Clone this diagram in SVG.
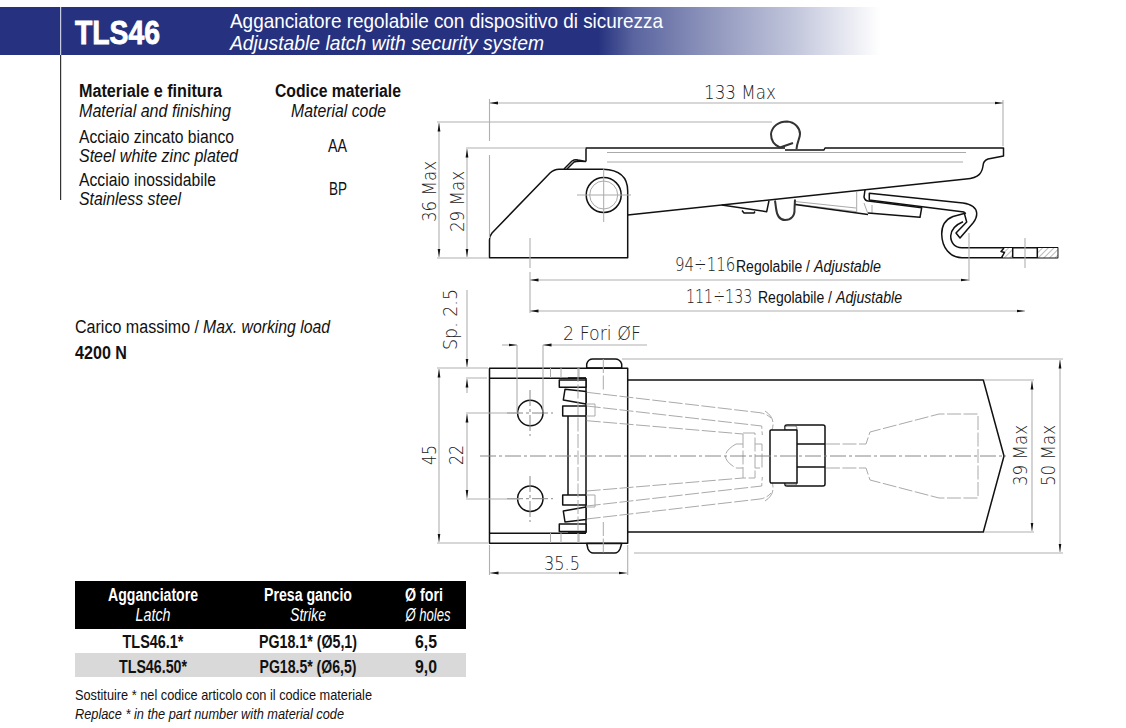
<svg xmlns="http://www.w3.org/2000/svg" width="1126" height="728" viewBox="0 0 1126 728">
<style>
text{font-family:"Liberation Sans",Arial,sans-serif;fill:#111}
.i{font-style:italic}.b{font-weight:bold}.m{text-anchor:middle}
.t{font-size:18px}
.dim{font-family:"DejaVu Sans ExtraLight","DejaVu Sans",sans-serif;font-size:19px;fill:#222;font-weight:200}
.k{fill:none;stroke:#111;stroke-width:1.5;stroke-linejoin:round}
.kf{fill:#fff;stroke:#111;stroke-width:1.5;stroke-linejoin:round}
.g{fill:none;stroke:#aaa;stroke-width:1}
.d{fill:none;stroke:#b0b0b0;stroke-width:1.1}
.dl{fill:none;stroke:#aaa;stroke-width:1;stroke-dasharray:14 2.5}
.c{fill:none;stroke:#888;stroke-width:1;stroke-dasharray:16 3 3 3}
.h{fill:#fff;stroke:#555;stroke-width:.8}
.wb{fill:none;stroke:#333;stroke-width:2}
</style>
<defs>
<linearGradient id="gr" x1="0" x2="1" y1="0" y2="0"><stop offset="0" stop-color="#26327f"/><stop offset=".68" stop-color="#26327f"/><stop offset=".72" stop-color="#5a649f"/><stop offset=".8" stop-color="#8b92ba"/><stop offset=".9" stop-color="#c0c4da"/><stop offset="1" stop-color="#fff"/></linearGradient>
<pattern id="hat" width="4" height="4" patternUnits="userSpaceOnUse" patternTransform="rotate(-45)"><rect width="4" height="4" fill="#fff"/><line x1="0" y1="0" x2="4" y2="0" stroke="#555" stroke-width=".8"/></pattern>
<marker id="ar" markerWidth="9" markerHeight="4" refX="8.500" refY="2" orient="auto-start-reverse" markerUnits="userSpaceOnUse"><path d="M0 .6L8.500 2L0 3.400z" fill="#111"/></marker>
</defs>
<g id="header">
<rect x="0" y="7" width="880" height="48" fill="url(#gr)"/>
<rect x="60" y="7" width="1.200" height="48" fill="#c8cce0"/>
<rect x="60" y="55" width="1.200" height="145" fill="#333"/>
<text x="75" y="44" class="b" font-size="34" style="fill:#fff;stroke:#fff;stroke-width:.9" textLength="85" lengthAdjust="spacingAndGlyphs">TLS46</text>
<text x="230" y="28" font-size="21" style="fill:#fff" textLength="433" lengthAdjust="spacingAndGlyphs">Agganciatore regolabile con dispositivo di sicurezza</text>
<text x="230" y="50" font-size="21" class="i" style="fill:#fff" textLength="314" lengthAdjust="spacingAndGlyphs">Adjustable latch with security system</text>
</g>
<g id="materials" class="t">
<text x="79" y="97" class="b" textLength="143" lengthAdjust="spacingAndGlyphs">Materiale e finitura</text>
<text x="79" y="117" class="i" textLength="152" lengthAdjust="spacingAndGlyphs">Material and finishing</text>
<text x="79" y="143" textLength="155" lengthAdjust="spacingAndGlyphs">Acciaio zincato bianco</text>
<text x="79" y="162" class="i" textLength="159" lengthAdjust="spacingAndGlyphs">Steel white zinc plated</text>
<text x="79" y="186" textLength="137" lengthAdjust="spacingAndGlyphs">Acciaio inossidabile</text>
<text x="79" y="205" class="i" textLength="102" lengthAdjust="spacingAndGlyphs">Stainless steel</text>
<text x="275" y="97" class="b" textLength="126" lengthAdjust="spacingAndGlyphs">Codice materiale</text>
<text x="291" y="117" class="i" textLength="95" lengthAdjust="spacingAndGlyphs">Material code</text>
<text x="328" y="152" textLength="19" lengthAdjust="spacingAndGlyphs">AA</text>
<text x="329" y="195" textLength="18" lengthAdjust="spacingAndGlyphs">BP</text>
<text x="75" y="333" textLength="124" lengthAdjust="spacingAndGlyphs">Carico massimo /</text>
<text x="203" y="333" class="i" textLength="127" lengthAdjust="spacingAndGlyphs">Max. working load</text>
<text x="75" y="359" class="b" textLength="52" lengthAdjust="spacingAndGlyphs">4200 N</text>
</g>
<g id="table" class="t">
<rect x="75" y="581" width="391" height="48" fill="#000"/>
<rect x="75" y="653" width="391" height="24" fill="#d9d9d9"/>
<text x="153" y="601" class="b m" style="fill:#fff" textLength="90" lengthAdjust="spacingAndGlyphs">Agganciatore</text>
<text x="153" y="621" class="i m" style="fill:#fff" textLength="35" lengthAdjust="spacingAndGlyphs">Latch</text>
<text x="308" y="601" class="b m" style="fill:#fff" textLength="88" lengthAdjust="spacingAndGlyphs">Presa gancio</text>
<text x="308" y="621" class="i m" style="fill:#fff" textLength="36" lengthAdjust="spacingAndGlyphs">Strike</text>
<text x="424" y="601" class="b m" style="fill:#fff" textLength="38" lengthAdjust="spacingAndGlyphs">Ø fori</text>
<text x="428" y="621" class="i m" style="fill:#fff" textLength="45" lengthAdjust="spacingAndGlyphs">Ø holes</text>
<text x="153" y="648" class="b m" textLength="61" lengthAdjust="spacingAndGlyphs">TLS46.1*</text>
<text x="308" y="648" class="b m" textLength="98" lengthAdjust="spacingAndGlyphs">PG18.1* (Ø5,1)</text>
<text x="426" y="648" class="b m" textLength="22" lengthAdjust="spacingAndGlyphs">6,5</text>
<text x="153" y="673" class="b m" textLength="68" lengthAdjust="spacingAndGlyphs">TLS46.50*</text>
<text x="308" y="673" class="b m" textLength="97" lengthAdjust="spacingAndGlyphs">PG18.5* (Ø6,5)</text>
<text x="426" y="673" class="b m" textLength="22" lengthAdjust="spacingAndGlyphs">9,0</text>
<text x="75" y="700" font-size="15" textLength="297" lengthAdjust="spacingAndGlyphs">Sostituire * nel codice articolo con il codice materiale</text>
<text x="75" y="719" font-size="15" class="i" textLength="269" lengthAdjust="spacingAndGlyphs">Replace * in the part number with material code</text>
</g>
<g id="side-view">
<path class="g" d="M607 152.500H966M607 162H963"/>
<path class="k" d="M586 161.500V148H785M785 150H824L825 148H1003.500V156L988 159Q983 161 983 166C982 172 980 178 966 179L627.700 215"/>
<path class="k" d="M564 169L572 161Q575 159 578 160L586 161.500M567 169L574 162Q576 161 586 161.500"/>
<path class="kf" d="M489.500 257.700V240Q489.500 236 492 233L550 173Q554 169.300 559 169.300H603Q627.700 170 627.700 191V257.700Z"/>
<circle class="k" cx="603.700" cy="195" r="17.500"/><circle class="g" cx="603.700" cy="195" r="14"/>
<path class="g" d="M577 195H631M603.700 168V222"/>
<path class="k" d="M721.700 205L766.700 211.700L769 200.700M742 210.500L744 213H754L755 211.500"/>
<path class="g" d="M795 204L856.700 211.700M795 201.500L856 208"/>
<path class="k" d="M795 204.500L868 214.500"/>
<path class="wb" d="M775 200.500L776 208C777 217 781 220 785 220C791 220 795 216 794.500 209L795 199.500"/>
<path class="g" d="M856.700 192V212M864 203L868 214M872 205V214"/>
<path class="k" d="M865 190L864 197Q865 201 868.300 201L921.700 207.700L920 217.300L868 213"/>
<path class="k" d="M869.300 200V193.300L963 203Q976 205 976.700 213Q977 218 973 223L960 238L956 233L966.700 222L964 212L869 200"/>
<path class="k" d="M966 213L953 216.500C944 220 941.700 228 941.700 234C942 248 950 257.700 962 257.700H1057.700V247.700H961.700C955 247.700 950.700 243 950.700 236C951 229 955 225 963 221.700"/>
<rect x="1003" y="248" width="10" height="9.500" fill="url(#hat)"/>
<rect x="1037.500" y="248" width="20" height="9.500" fill="url(#hat)"/>
<path class="k" d="M1012.700 247.700V257.700M1037.300 247.700V257.700"/>
<path class="k" d="M1004 248L1001 251.500L1004.500 252.500L1001.500 257.700"/>
<path class="wb" d="M780 147.500L793 143M780 147.500C774 145 771 140 771 134C772 126 779 121.500 787 121.500C795 122 800 128 800 134C800 138 797 142 796.500 149"/>
</g>
<g id="plan-view">
<path class="k" d="M586 380H983.300L1004 456L983.300 532H586"/>
<path class="kf" d="M586.700 368V364Q588 359 593 359H615Q620 359 621.700 364V368Z"/>
<rect class="kf" x="489.500" y="368.300" width="138.200" height="175"/>
<path class="k" d="M489.500 378.300H586M489.500 533.300H586"/>
<path class="kf" d="M586.700 543.500H621.700L620 549Q618 553 615 553H593Q590 553 588 549Z"/>
<path class="g" d="M550.500 368V378M561 368V378M579 368V378M550.500 533V543M561 533V543M579 533V543"/>
<path class="k" d="M586 378V533M568 378H586M568 533H586"/>
<circle class="k" cx="530.300" cy="413" r="12.700"/><circle class="k" cx="530.300" cy="498.700" r="12.700"/>
<path class="c" d="M507 413H553M530 390V436M507 498.700H553M530 476V522"/>
<path class="k" d="M568 416V495"/>
<path class="kf" d="M559.300 380H586V387.300H559.300Z"/><path class="kf" d="M565 389.300L586 391.500V404L563.300 400Z"/><path class="kf" d="M562.700 406H586V416H562.700Z"/>
<path class="kf" d="M559.300 524H586V531.500H559.300Z"/><path class="kf" d="M565 522L586 519.500V507L563.300 511Z"/><path class="kf" d="M562.700 495H586V505H562.700Z"/>
<path class="dl" d="M578 368V543M603.300 359V390M603.300 522V553"/>
<path class="g" d="M586 404H595V416H586M586 495H595V507H586"/>
<path class="dl" d="M586.700 392.300L760 412.700Q767 414 771 418M586.700 420.700L743 434M586.700 406L761.700 426L762.300 435M586.700 519L760 499Q767 498 771 493M586.700 491L743 478M586.700 506L761.700 486L762.300 477"/>
<path class="dl" d="M743 433H755V478H743V433M736 444H743M736 468H743M736 444Q715 456 736 468M755 444H762V468H755"/>
<path class="dl" d="M826 444H866L870 432L939 414H978V498H939L870 480L866 468H826M770 444H785M770 468H785"/>
<path class="dl" d="M765 411Q776 418 772 430M765 501Q776 494 772 482"/>
<path class="kf" d="M785 426Q785 425 787 425H823Q825 425 825 427V484Q825 486 823 486H787Q785 486 785 485Z"/>
<path class="k" d="M785 444H825M785 467H825"/>
<rect class="h" x="785" y="426" width="12" height="4" rx="2"/><rect class="h" x="785" y="481" width="12" height="4" rx="2"/>
<path class="kf" d="M771 430H797V483H771Q770 483 770 480V431Q770 430 771 430Z"/>
<path class="c" d="M480 456H1006"/>
</g>
<g id="connectors">
<path class="d" d="M489.500 99V141M489.500 155V238"/>
<path class="d" d="M1003 100V146"/>
<path class="d" d="M489.500 103H1003" marker-start="url(#ar)" marker-end="url(#ar)"/>
<path class="d" d="M437 122H772M437 258H489M466 148H586"/>
<path class="d" d="M530 238V268M530 272V313"/>
<path class="d" d="M1025 238V268"/>
<path class="d" d="M969 233V281"/>
<path class="d" d="M439 123V257" marker-start="url(#ar)" marker-end="url(#ar)"/>
<path class="d" d="M467 149V257" marker-start="url(#ar)" marker-end="url(#ar)"/>
<path class="d" d="M530 280H969" marker-start="url(#ar)" marker-end="url(#ar)"/>
<path class="d" d="M530 311H1025" marker-start="url(#ar)" marker-end="url(#ar)"/>
<path class="d" d="M467 290V367" marker-end="url(#ar)"/>
<path class="d" d="M467 393V379" marker-end="url(#ar)"/>
<path class="d" d="M466 378H487M437 368H488M437 543H488M466 413H520M466 499H520"/>
<path class="d" d="M439 369V542" marker-start="url(#ar)" marker-end="url(#ar)"/>
<path class="d" d="M467 414V498" marker-start="url(#ar)" marker-end="url(#ar)"/>
<path class="d" d="M517 345V412M543 345V412"/>
<path class="d" d="M502 345H517" marker-end="url(#ar)"/>
<path class="d" d="M647 345H543" marker-end="url(#ar)"/>
<path class="d" d="M489.500 545V575M627.700 545V575"/>
<path class="d" d="M490 573H627" marker-start="url(#ar)" marker-end="url(#ar)"/>
<path class="d" d="M622 359H1063M634 553H1063M984 380H1034M984 532H1034"/>
<path class="d" d="M1032 381V531" marker-start="url(#ar)" marker-end="url(#ar)"/>
<path class="d" d="M1060 360V552" marker-start="url(#ar)" marker-end="url(#ar)"/>
</g>
<g id="dimensions">
<text x="704" y="99" class="dim" textLength="72" lengthAdjust="spacingAndGlyphs">133 Max</text>
<text transform="translate(436,222) rotate(-90)" class="dim" textLength="61" lengthAdjust="spacingAndGlyphs">36 Max</text>
<text transform="translate(464,232) rotate(-90)" class="dim" textLength="61" lengthAdjust="spacingAndGlyphs">29 Max</text>
<text transform="translate(675,271) scale(.79,1)" class="dim">94÷116</text>
<text x="736" y="272" font-size="16" textLength="74" lengthAdjust="spacingAndGlyphs">Regolabile /</text>
<text x="814" y="272" font-size="16" class="i" textLength="67" lengthAdjust="spacingAndGlyphs">Adjustable</text>
<text transform="translate(686,303) scale(.75,1)" class="dim">111÷133</text>
<text x="758" y="303" font-size="16" textLength="74" lengthAdjust="spacingAndGlyphs">Regolabile /</text>
<text x="836" y="303" font-size="16" class="i" textLength="66" lengthAdjust="spacingAndGlyphs">Adjustable</text>
<text transform="translate(457,350) rotate(-90)" class="dim" textLength="61" lengthAdjust="spacingAndGlyphs">Sp. 2.5</text>
<text x="563" y="340" class="dim" textLength="78" lengthAdjust="spacingAndGlyphs">2 Fori ØF</text>
<text transform="translate(436,465) rotate(-90)" class="dim" textLength="20" lengthAdjust="spacingAndGlyphs">45</text>
<text transform="translate(463,465) rotate(-90)" class="dim" textLength="20" lengthAdjust="spacingAndGlyphs">22</text>
<text x="544" y="570" class="dim" textLength="36" lengthAdjust="spacingAndGlyphs">35.5</text>
<text transform="translate(1027,486) rotate(-90)" class="dim" textLength="61" lengthAdjust="spacingAndGlyphs">39 Max</text>
<text transform="translate(1055,486) rotate(-90)" class="dim" textLength="61" lengthAdjust="spacingAndGlyphs">50 Max</text>
</g>
</svg>
